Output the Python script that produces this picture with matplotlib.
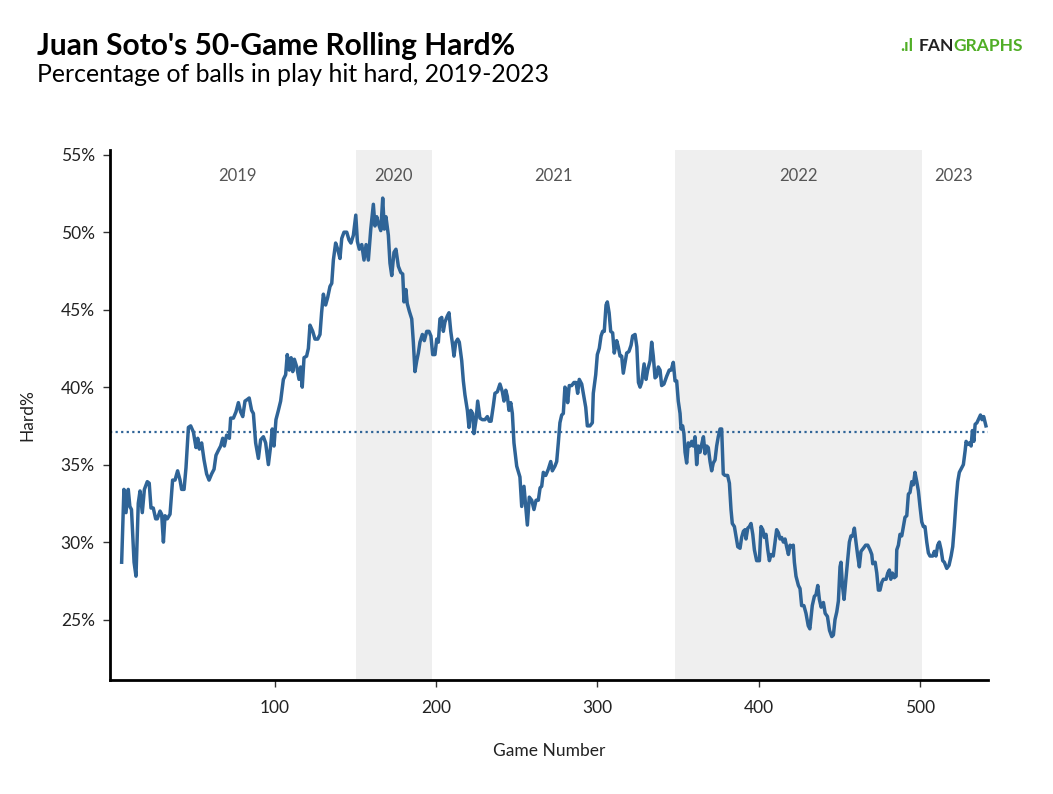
import matplotlib
matplotlib.use("Agg")
import matplotlib.pyplot as plt
from matplotlib.ticker import FuncFormatter

# 50-game rolling Hard%
games = [4.9, 6.3, 7.6, 9.0, 10.0, 11.0, 12.6, 13.8, 15.2, 16.3, 17.7, 19.0, 20.8, 22.0, 23.1, 24.5,
         26.0, 27.0, 28.7, 29.7, 30.8, 31.8, 33.2, 34.9, 36.5, 38.0, 39.6, 41.1, 42.1, 43.6, 44.8, 46.3,
         47.7, 49.4, 51.0, 52.1, 53.1, 54.5, 56.0, 57.6, 59.1, 60.7, 62.2, 63.4, 64.8, 66.3, 67.6, 68.6,
         70.0, 71.7, 72.5, 74.2, 75.8, 77.3, 78.7, 80.0, 81.4, 82.8, 84.0, 85.5, 86.6, 88.0, 89.7, 91.1,
         92.8, 94.2, 95.9, 97.3, 98.3, 99.4, 100.6, 102.1, 103.5, 105.2, 106.6, 107.6, 108.9, 110.0, 111.0,
         112.0, 113.5, 114.9, 115.9, 116.9, 118.0, 119.6, 120.7, 121.7, 123.4, 124.8, 126.5, 127.9, 128.9,
         130.0, 131.4, 132.7, 134.1, 135.2, 136.2, 137.6, 138.9, 140.3, 141.4, 142.8, 144.5, 145.9, 147.1,
         148.6, 150.1, 151.1, 152.3, 153.8, 155.2, 156.5, 157.9, 159.4, 161.0, 162.0, 163.1, 164.3, 165.6,
         166.8, 167.8, 168.8, 170.3, 171.3, 172.4, 173.8, 175.0, 176.5, 178.0, 179.2, 180.0, 181.2, 182.0,
         183.3, 184.8, 185.8, 186.8, 187.9, 188.9, 189.9, 191.4, 192.6, 194.1, 195.5, 196.7, 197.8, 199.2,
         200.3, 201.3, 202.3, 203.4, 204.4, 205.4, 206.9, 207.9, 209.0, 210.2, 211.0, 212.1, 213.3, 214.3,
         215.8, 216.8, 217.8, 219.3, 220.3, 221.4, 222.6, 223.4, 224.7, 225.7, 227.1, 228.6, 230.2, 231.7,
         232.9, 234.0, 235.4, 236.4, 237.9, 239.5, 241.0, 242.0, 243.1, 244.1, 245.1, 246.2, 247.2, 248.2,
         249.9, 251.9, 253.0, 254.4, 255.7, 256.5, 257.7, 259.2, 260.6, 261.9, 263.3, 264.4, 265.4, 266.4,
         267.9, 269.5, 271.0, 272.0, 273.6, 274.7, 275.7, 276.7, 277.8, 278.8, 279.8, 280.9, 281.5, 282.5,
         284.0, 285.4, 286.7, 287.7, 288.7, 290.2, 291.2, 292.7, 293.7, 295.3, 296.8, 297.4, 298.9, 299.9,
         301.1, 302.2, 303.2, 304.2, 305.3, 306.1, 307.2, 308.2, 309.4, 310.4, 311.9, 312.9, 314.0, 315.0,
         316.0, 317.1, 318.1, 319.5, 320.8, 321.8, 323.3, 324.4, 325.4, 326.4, 327.4, 328.9, 330.1, 331.1,
         332.6, 333.6, 334.6, 335.7, 336.7, 337.7, 338.8, 339.8, 341.2, 342.9, 344.5, 345.7, 347.0, 348.1,
         349.1, 350.1, 351.2, 351.8, 352.8, 353.6, 354.3, 355.3, 356.3, 357.4, 358.4, 359.4, 360.5, 361.5,
         362.5, 363.6, 364.6, 365.7, 366.7, 367.7, 368.7, 369.8, 370.8, 371.8, 372.9, 373.9, 374.9, 376.0,
         377.0, 378.0, 379.1, 380.7, 381.8, 382.8, 383.6, 384.9, 385.9, 387.0, 388.4, 389.4, 390.5, 391.5,
         392.1, 393.2, 394.2, 395.2, 396.3, 397.3, 398.7, 400.4, 401.4, 402.5, 403.5, 404.5, 405.6, 406.6,
         407.6, 409.0, 410.1, 411.1, 412.2, 413.2, 414.2, 415.3, 416.3, 417.3, 418.4, 419.4, 420.4, 421.4,
         422.1, 423.1, 424.6, 425.6, 426.6, 428.0, 429.3, 430.7, 431.7, 433.2, 434.5, 435.5, 436.6, 437.6,
         438.7, 440.1, 441.2, 442.6, 443.9, 445.3, 446.3, 447.3, 448.4, 449.4, 450.4, 451.0, 451.9, 452.9,
         454.2, 455.2, 456.2, 457.2, 458.3, 459.3, 460.3, 461.4, 462.4, 463.4, 464.9, 466.3, 467.6, 469.0,
         470.1, 470.7, 472.2, 473.2, 474.2, 475.2, 476.3, 477.3, 479.0, 480.0, 481.0, 481.9, 482.9, 484.1,
         485.2, 485.6, 486.6, 487.6, 488.7, 489.7, 490.7, 491.8, 492.8, 493.8, 494.9, 495.9, 496.9, 498.0,
         499.0, 500.0, 501.1, 502.1, 503.1, 504.2, 505.2, 506.2, 507.9, 508.9, 509.9, 511.0, 512.0, 513.1,
         514.1, 515.1, 516.6, 518.0, 519.3, 520.3, 521.3, 522.4, 523.4, 524.4, 525.9, 526.9, 528.0, 528.6,
         529.6, 530.7, 531.7, 532.5, 533.4, 534.2, 535.3, 536.2, 537.5, 538.5, 539.5, 540.9]
hard = [28.7, 33.4, 31.9, 33.4, 32.3, 32.1, 28.7, 27.8, 32.5, 33.3, 31.9, 33.4, 33.9, 33.8, 32.2, 32.2,
        31.5, 31.5, 32.0, 31.8, 30.0, 31.7, 31.5, 31.8, 34.0, 34.0, 34.6, 34.0, 33.4, 33.4, 34.8, 37.4,
        37.5, 37.1, 36.1, 36.7, 36.0, 36.4, 35.3, 34.4, 34.0, 34.4, 34.7, 35.6, 35.9, 36.2, 36.7, 36.2,
        36.9, 36.7, 38.0, 38.0, 38.4, 39.0, 38.4, 38.1, 39.1, 39.2, 39.3, 38.5, 38.3, 36.4, 35.4, 36.6,
        36.8, 36.4, 35.0, 36.2, 37.3, 36.2, 37.9, 38.5, 39.1, 40.5, 40.8, 42.1, 41.1, 41.9, 41.0,
        41.8, 41.3, 40.5, 41.3, 40.0, 41.9, 42.0, 42.5, 44.0, 43.6, 43.1, 43.1, 43.4, 44.8,
        46.0, 45.3, 45.8, 46.5, 46.7, 48.2, 49.3, 48.9, 48.3, 49.6, 50.0, 50.0, 49.5, 49.3,
        49.8, 51.1, 49.4, 48.9, 49.2, 48.2, 49.2, 48.2, 50.2, 51.8, 50.4, 51.0, 50.5, 50.1,
        52.2, 50.2, 51.0, 49.8, 48.0, 47.2, 48.7, 48.9, 47.8, 47.4, 47.3, 45.5, 46.3, 45.4,
        44.9, 44.4, 42.9, 41.0, 41.7, 42.2, 42.9, 43.4, 43.0, 43.6, 43.6, 43.3, 42.1, 42.1,
        43.1, 42.9, 44.4, 44.5, 43.6, 44.2, 44.6, 44.8, 43.6, 42.7, 42.0, 42.9, 43.1, 42.9,
        41.7, 40.4, 39.5, 38.5, 37.4, 38.5, 38.3, 37.0, 37.9, 39.1, 38.0, 37.9, 37.9, 38.1,
        37.8, 37.8, 38.8, 39.6, 39.7, 40.2, 39.7, 39.1, 39.8, 39.4, 38.5, 39.0, 38.3, 36.4,
        34.9, 34.2, 32.3, 33.6, 32.1, 31.1, 32.9, 32.7, 32.1, 32.7, 32.7, 33.5, 33.6, 34.5,
        34.3, 34.7, 35.2, 34.6, 34.9, 35.2, 36.4, 37.7, 38.2, 38.3, 40.0, 39.8, 39.0, 40.1,
        40.1, 40.3, 40.3, 39.6, 40.5, 40.2, 39.6, 38.7, 37.5, 37.5, 37.7, 39.6, 40.8, 42.1,
        42.5, 43.3, 43.6, 43.6, 45.3, 45.5, 44.8, 43.6, 43.5, 42.2, 43.0, 42.6, 42.0, 42.0,
        40.9, 41.6, 42.2, 42.3, 42.7, 43.3, 43.4, 42.6, 40.3, 40.0, 40.3, 41.5, 40.5, 41.1,
        41.7, 42.9, 42.0, 40.6, 40.7, 41.3, 41.1, 40.1, 40.2, 40.7, 41.1, 41.1, 41.6, 40.4,
        40.4, 39.1, 38.3, 37.3, 37.5, 37.0, 35.8, 35.1, 36.4, 36.2, 36.5, 36.2, 36.8, 35.0,
        36.2, 35.8, 36.3, 36.8, 35.7, 36.2, 36.1, 35.2, 34.6, 35.1, 35.3, 36.2, 36.8, 37.3,
        37.3, 34.4, 34.3, 34.3, 33.8, 32.1, 31.2, 31.0, 30.4, 29.7, 29.6, 30.3, 30.7, 30.8,
        30.2, 30.9, 31.0, 31.2, 30.5, 29.5, 28.8, 28.8, 31.0, 30.8, 30.3, 30.5, 29.5, 28.8,
        29.2, 29.1, 30.0, 30.8, 30.6, 30.2, 30.3, 30.0, 30.2, 29.7, 29.2, 29.8, 29.7, 29.8,
        28.7, 27.8, 27.2, 27.0, 25.9, 25.9, 25.4, 24.6, 24.4, 25.9, 26.5, 26.6, 27.2, 26.3,
        25.8, 26.1, 25.4, 25.2, 24.3, 23.9, 24.0, 25.0, 25.5, 26.2, 28.4, 28.7, 27.2, 26.3,
        27.8, 28.9, 30.0, 30.4, 30.4, 30.9, 30.0, 29.1, 28.4, 29.4, 29.6, 29.8, 29.8, 29.5,
        29.2, 28.6, 28.7, 28.0, 26.9, 26.9, 27.4, 27.6, 27.6, 28.0, 28.2, 27.6, 28.0, 27.7,
        27.8, 29.5, 29.8, 30.5, 30.4, 31.0, 31.6, 31.7, 33.1, 33.2, 33.9, 33.7, 34.5, 33.9,
        33.3, 32.3, 31.3, 31.0, 31.0, 30.0, 29.3, 29.1, 29.1, 29.4, 29.1, 29.8, 30.0, 29.5,
        28.8, 28.7, 28.3, 28.5, 29.1, 29.7, 31.0, 32.7, 33.9, 34.5, 34.8, 35.0, 35.9, 36.5,
        36.3, 36.4, 36.2, 37.2, 36.5, 37.6, 37.7, 37.9, 38.2, 37.9, 38.1, 37.5]

career_avg = 37.1

# season boundaries (game numbers) and labels
seasons = ["2019", "2020", "2021", "2022", "2023"]
season_starts = [0, 150.5, 197.5, 348.3, 501.2]
season_ends = [150.5, 197.5, 348.3, 501.2, 542]
shaded = [False, True, False, True, False]
label_x = [77, 173.2, 272.4, 424.4, 520.5]

line_color = "#2f6497"
font = "Lato"

fig = plt.figure(figsize=(10.53, 7.94), dpi=100)
ax = fig.add_axes([0.1045, 0.1436, 0.8335, 0.6674])

for s, e, sh in zip(season_starts, season_ends, shaded):
    if sh:
        ax.axvspan(s, e, color="#efefef", zorder=0, lw=0)

for lab, x in zip(seasons, label_x):
    ax.text(x, 53.65, lab, ha="center", va="center", fontsize=12,
            color="#555555", family=font)

ax.axhline(career_avg, color=line_color, lw=1.6, ls=(0, (1, 1.5)), zorder=2)
ax.plot(games, hard, color=line_color, lw=2.5, zorder=3, solid_joinstyle="round")

ax.set_xlim(-2.3, 542)
ax.set_ylim(21.1, 55.3)
ax.set_xticks([100, 200, 300, 400, 500])
ax.set_yticks([25, 30, 35, 40, 45, 50, 55])
ax.yaxis.set_major_formatter(FuncFormatter(lambda v, p: f"{v:.0f}%"))

for side in ["top", "right"]:
    ax.spines[side].set_visible(False)
for side in ["left", "bottom"]:
    ax.spines[side].set_linewidth(2.0)
    ax.spines[side].set_color("black")

ax.tick_params(axis="both", length=5, width=1, color="#333333", labelsize=12.5,
               labelcolor="#222222")
ax.tick_params(axis="x", pad=9.5)
ax.tick_params(axis="y", pad=6)
for lbl in ax.get_xticklabels() + ax.get_yticklabels():
    lbl.set_family(font)

ax.set_xlabel("Game Number", fontsize=12.5, family=font, color="#222222", labelpad=19)
ax.set_ylabel("Hard%", fontsize=12.5, family=font, color="#222222", labelpad=18)

fig.text(0.035, 0.9307, "Juan Soto's 50-Game Rolling Hard%", fontsize=21.5, fontweight="bold",
         family=font, color="black", va="baseline")
fig.text(0.035, 0.8967, "Percentage of balls in play hit hard, 2019-2023", fontsize=17.9,
         family=font, color="black", va="baseline")

# FanGraphs wordmark
fig.text(0.855, 0.9358, ".ıl", fontsize=12.5, fontweight="bold", family=font, color="#50ae26", va="baseline")
fig.text(0.872, 0.9358, "FAN", fontsize=12.5, fontweight="bold", family=font, color="#222222", va="baseline")
fig.text(0.9055, 0.9358, "GRAPHS", fontsize=12.5, fontweight="bold", family=font, color="#50ae26", va="baseline")

fig.savefig("out.png", dpi=100, facecolor="white")
